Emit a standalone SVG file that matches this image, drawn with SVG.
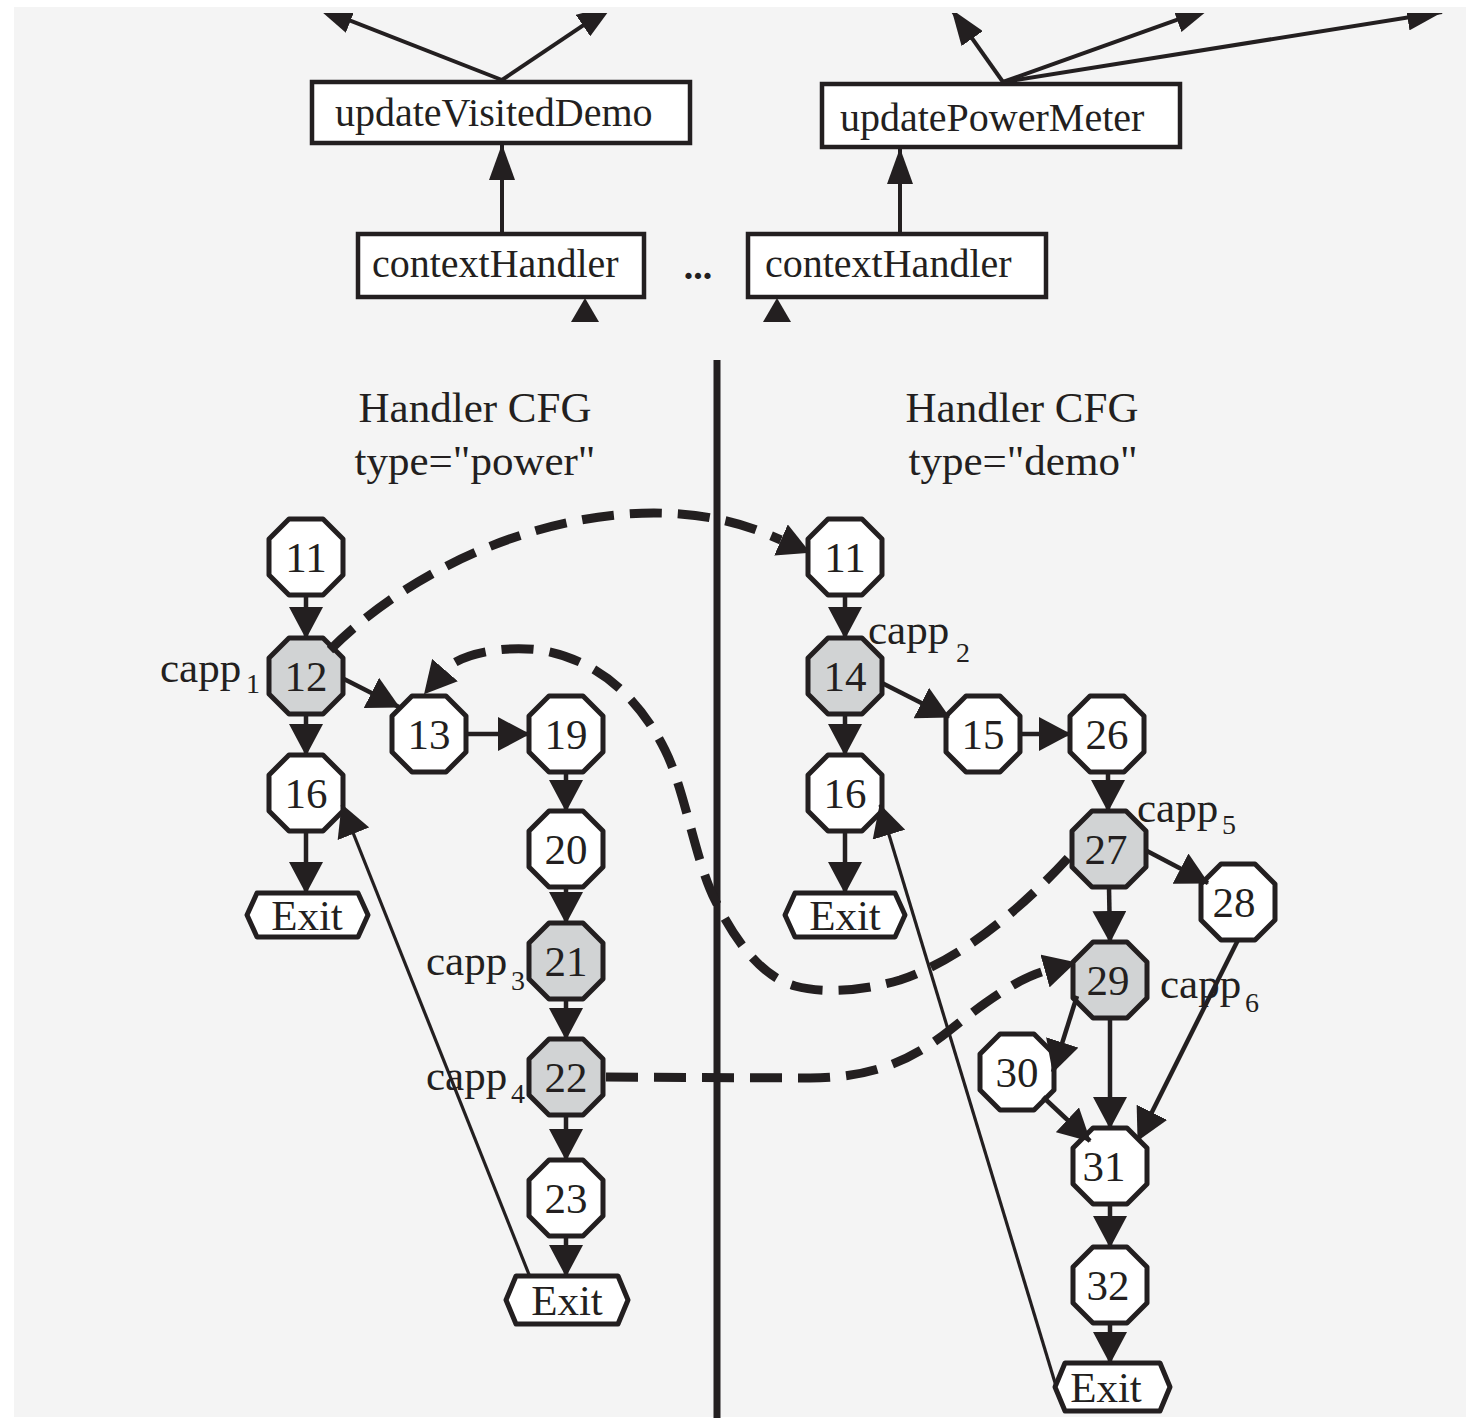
<svg xmlns="http://www.w3.org/2000/svg" xmlns:xlink="http://www.w3.org/1999/xlink" width="1470" height="1418" viewBox="0 0 1470 1418">
  <style>
    .txt { font-family: "Liberation Serif", "Times New Roman", serif; fill: #231f20; }
    .num { font-size: 43px; text-anchor: middle; }
    .box { font-size: 40px; }
    .head { font-size: 43px; text-anchor: middle; }
    .cap { font-size: 43px; }
    .sub { font-size: 28px; }
    .rect { fill: #ffffff; stroke: #231f20; stroke-width: 4.5; }
    .oct { stroke: #231f20; stroke-width: 5; stroke-linejoin: round; }
    .plain { fill: #ffffff; }
    .site { fill: #d1d3d4; }
    .edge { fill: none; stroke: #231f20; stroke-width: 4.5; marker-end: url(#ah); }
    .thin { fill: none; stroke: #231f20; stroke-width: 3.2; marker-end: url(#ah); }
    .up { fill: none; stroke: #231f20; stroke-width: 4; marker-end: url(#ahT); }
    .dash { fill: none; stroke: #231f20; stroke-width: 9; stroke-dasharray: 32 16; }
  </style>
  <defs>
    <marker id="ah" markerUnits="userSpaceOnUse" markerWidth="32" markerHeight="34" viewBox="0 0 32 34" refX="31" refY="17" orient="auto">
      <path d="M0,0 L32,17 L0,34 Z" fill="#231f20"/>
    </marker>
    <marker id="ahT" markerUnits="userSpaceOnUse" markerWidth="36" markerHeight="26" viewBox="0 0 36 26" refX="35" refY="13" orient="auto">
      <path d="M0,0 L36,13 L0,26 Z" fill="#231f20"/>
    </marker>
    <marker id="ahD" markerUnits="userSpaceOnUse" markerWidth="32" markerHeight="34" viewBox="0 0 32 34" refX="0" refY="17" orient="auto">
      <path d="M0,0 L32,17 L0,34 Z" fill="#231f20"/>
    </marker>
    <polygon id="octShape" points="-17,-38 17,-38 37,-18 37,18 17,38 -17,38 -37,18 -37,-18"/>
    <clipPath id="topClip">
      <rect x="0" y="13" width="1470" height="1405"/>
    </clipPath>
  </defs>

  <!-- page -->
  <rect x="0" y="0" width="1470" height="1418" fill="#ffffff"/>
  <rect x="14" y="7" width="1452" height="1410" fill="#f4f4f4"/>

  <!-- divider between the two handler CFGs -->
  <line x1="717" y1="360" x2="717" y2="1418" stroke="#231f20" stroke-width="7"/>

  <!-- call-graph boxes -->
  <g id="updateVisitedDemo">
    <rect class="rect" x="312" y="82" width="378" height="61"/>
    <text class="txt box" x="335" y="126">updateVisitedDemo</text>
  </g>
  <g id="updatePowerMeter">
    <rect class="rect" x="822" y="84" width="358" height="63"/>
    <text class="txt box" x="840" y="131">updatePowerMeter</text>
  </g>
  <g id="contextHandlerL">
    <rect class="rect" x="358" y="234" width="286" height="63"/>
    <text class="txt box" x="372" y="277">contextHandler</text>
  </g>
  <g id="contextHandlerR">
    <rect class="rect" x="748" y="234" width="298" height="63"/>
    <text class="txt box" x="765" y="277">contextHandler</text>
  </g>
  <text class="txt" x="698" y="279" font-size="38" font-weight="bold" text-anchor="middle">...</text>

  <!-- headings -->
  <g id="headingPower">
    <text class="txt head" x="475" y="422">Handler CFG</text>
    <text class="txt head" x="475" y="475">type="power"</text>
  </g>
  <g id="headingDemo">
    <text class="txt head" x="1022" y="422">Handler CFG</text>
    <text class="txt head" x="1023" y="475">type="demo"</text>
  </g>

  <!-- power handler nodes -->
  <g id="p11"><use xlink:href="#octShape" class="oct plain" x="306" y="557"/><text class="txt num" x="306" y="572">11</text></g>
  <g id="p12"><use xlink:href="#octShape" class="oct site" x="306" y="676"/><text class="txt num" x="306" y="691">12</text></g>
  <g id="p16"><use xlink:href="#octShape" class="oct plain" x="306" y="793"/><text class="txt num" x="306" y="808">16</text></g>
  <g id="pExit1">
    <polygon class="oct plain" points="257,893 358,893 368,915 358,937 257,937 247,915"/>
    <text class="txt num" x="307" y="930">Exit</text>
  </g>
  <g id="p13"><use xlink:href="#octShape" class="oct plain" x="429" y="734"/><text class="txt num" x="429" y="749">13</text></g>
  <g id="p19"><use xlink:href="#octShape" class="oct plain" x="566" y="734"/><text class="txt num" x="566" y="749">19</text></g>
  <g id="p20"><use xlink:href="#octShape" class="oct plain" x="566" y="849"/><text class="txt num" x="566" y="864">20</text></g>
  <g id="p21"><use xlink:href="#octShape" class="oct site" x="566" y="961"/><text class="txt num" x="566" y="976">21</text></g>
  <g id="p22"><use xlink:href="#octShape" class="oct site" x="566" y="1077"/><text class="txt num" x="566" y="1092">22</text></g>
  <g id="p23"><use xlink:href="#octShape" class="oct plain" x="566" y="1198"/><text class="txt num" x="566" y="1213">23</text></g>
  <g id="pExit2">
    <polygon class="oct plain" points="516,1276 618,1276 628,1300 618,1324 516,1324 506,1300"/>
    <text class="txt num" x="567" y="1315">Exit</text>
  </g>

  <!-- demo handler nodes -->
  <g id="d11"><use xlink:href="#octShape" class="oct plain" x="845" y="557"/><text class="txt num" x="845" y="572">11</text></g>
  <g id="d14"><use xlink:href="#octShape" class="oct site" x="845" y="676"/><text class="txt num" x="845" y="691">14</text></g>
  <g id="d16"><use xlink:href="#octShape" class="oct plain" x="845" y="793"/><text class="txt num" x="845" y="808">16</text></g>
  <g id="dExit1">
    <polygon class="oct plain" points="795,893 895,893 905,915 895,937 795,937 785,915"/>
    <text class="txt num" x="845" y="930">Exit</text>
  </g>
  <g id="d15"><use xlink:href="#octShape" class="oct plain" x="983" y="734"/><text class="txt num" x="983" y="749">15</text></g>
  <g id="d26"><use xlink:href="#octShape" class="oct plain" x="1107" y="734"/><text class="txt num" x="1107" y="749">26</text></g>
  <g id="d27"><use xlink:href="#octShape" class="oct site" x="1109" y="849"/><text class="txt num" x="1106" y="864">27</text></g>
  <g id="d28"><use xlink:href="#octShape" class="oct plain" x="1238" y="902"/><text class="txt num" x="1234" y="917">28</text></g>
  <g id="d29"><use xlink:href="#octShape" class="oct site" x="1110" y="980"/><text class="txt num" x="1108" y="995">29</text></g>
  <g id="d30"><use xlink:href="#octShape" class="oct plain" x="1017" y="1072"/><text class="txt num" x="1017" y="1087">30</text></g>
  <g id="d31"><use xlink:href="#octShape" class="oct plain" x="1110" y="1166"/><text class="txt num" x="1104" y="1181">31</text></g>
  <g id="d32"><use xlink:href="#octShape" class="oct plain" x="1110" y="1285"/><text class="txt num" x="1108" y="1300">32</text></g>
  <g id="dExit2">
    <polygon class="oct plain" points="1065,1363 1160,1363 1170,1387 1160,1411 1065,1411 1055,1387"/>
    <text class="txt num" x="1106" y="1402">Exit</text>
  </g>

  <!-- capability-site labels -->
  <g id="capp1"><text class="txt cap" x="160" y="682">capp</text><text class="txt sub" x="246" y="693">1</text></g>
  <g id="capp2"><text class="txt cap" x="868" y="644">capp</text><text class="txt sub" x="956" y="662">2</text></g>
  <g id="capp3"><text class="txt cap" x="426" y="975">capp</text><text class="txt sub" x="511" y="990">3</text></g>
  <g id="capp4"><text class="txt cap" x="426" y="1090">capp</text><text class="txt sub" x="511" y="1103">4</text></g>
  <g id="capp5"><text class="txt cap" x="1137" y="822">capp</text><text class="txt sub" x="1222" y="834">5</text></g>
  <g id="capp6"><text class="txt cap" x="1160" y="998">capp</text><text class="txt sub" x="1245" y="1012">6</text></g>

  <g id="connectors">
    <!-- call graph -->
    <g clip-path="url(#topClip)">
      <line class="up" x1="502" y1="80" x2="318" y2="8"/>
      <line class="up" x1="502" y1="80" x2="612" y2="6"/>
      <line class="up" x1="1003" y1="82" x2="952" y2="10"/>
      <line class="up" x1="1003" y1="82" x2="1210" y2="8"/>
      <line class="up" x1="1003" y1="82" x2="1442" y2="12"/>
    </g>
    <line class="up" x1="502" y1="234" x2="502" y2="145"/>
    <line class="up" x1="900" y1="234" x2="900" y2="149"/>
    <polygon points="585,298 571,322 599,322" fill="#231f20"/>
    <polygon points="777,298 763,322 791,322" fill="#231f20"/>

    <!-- power handler edges -->
    <line class="edge" x1="306" y1="595" x2="306" y2="638"/>
    <line class="edge" x1="306" y1="714" x2="306" y2="755"/>
    <line class="edge" x1="306" y1="831" x2="306" y2="893"/>
    <line class="edge" x1="344" y1="679" x2="399" y2="707"/>
    <line class="edge" x1="467" y1="734" x2="529" y2="734"/>
    <line class="edge" x1="566" y1="772" x2="566" y2="811"/>
    <line class="edge" x1="566" y1="887" x2="566" y2="923"/>
    <line class="edge" x1="566" y1="999" x2="566" y2="1039"/>
    <line class="edge" x1="566" y1="1115" x2="566" y2="1160"/>
    <line class="edge" x1="566" y1="1236" x2="566" y2="1276"/>
    <line class="thin" x1="530" y1="1277" x2="342" y2="805"/>

    <!-- demo handler edges -->
    <line class="edge" x1="845" y1="595" x2="845" y2="638"/>
    <line class="edge" x1="845" y1="714" x2="845" y2="755"/>
    <line class="edge" x1="845" y1="831" x2="845" y2="893"/>
    <line class="edge" x1="882" y1="683" x2="949" y2="717"/>
    <line class="edge" x1="1020" y1="734" x2="1070" y2="734"/>
    <line class="edge" x1="1108" y1="772" x2="1108" y2="811"/>
    <line class="edge" x1="1147" y1="851" x2="1208" y2="883"/>
    <line class="edge" x1="1109" y1="887" x2="1110" y2="942"/>
    <line class="edge" x1="1077" y1="996" x2="1053" y2="1072"/>
    <line class="edge" x1="1110" y1="1018" x2="1110" y2="1128"/>
    <line class="edge" x1="1043" y1="1097" x2="1090" y2="1141"/>
    <line class="edge" x1="1238" y1="940" x2="1138" y2="1140"/>
    <line class="edge" x1="1110" y1="1204" x2="1110" y2="1247"/>
    <line class="edge" x1="1110" y1="1323" x2="1110" y2="1363"/>
    <line class="thin" x1="1056" y1="1386" x2="880" y2="805"/>

    <!-- cross-handler flows -->
    <path class="dash" marker-end="url(#ahD)" d="M 330 650 C 420 560, 560 505, 680 514 C 730 518, 758 530, 781 540"/>
    <path class="dash" marker-end="url(#ahD)" d="M 1068 858 C 1020 910, 960 960, 900 980 C 860 992, 820 993, 795 986 C 760 976, 735 940, 715 900 C 695 860, 685 790, 665 750 C 640 700, 600 660, 540 650 C 500 645, 458 655, 445 670"/>
    <path class="dash" marker-end="url(#ahD)" d="M 606 1077 L 810 1078 C 870 1078, 910 1062, 950 1030 C 990 998, 1020 978, 1045 971"/>
  </g>
</svg>
